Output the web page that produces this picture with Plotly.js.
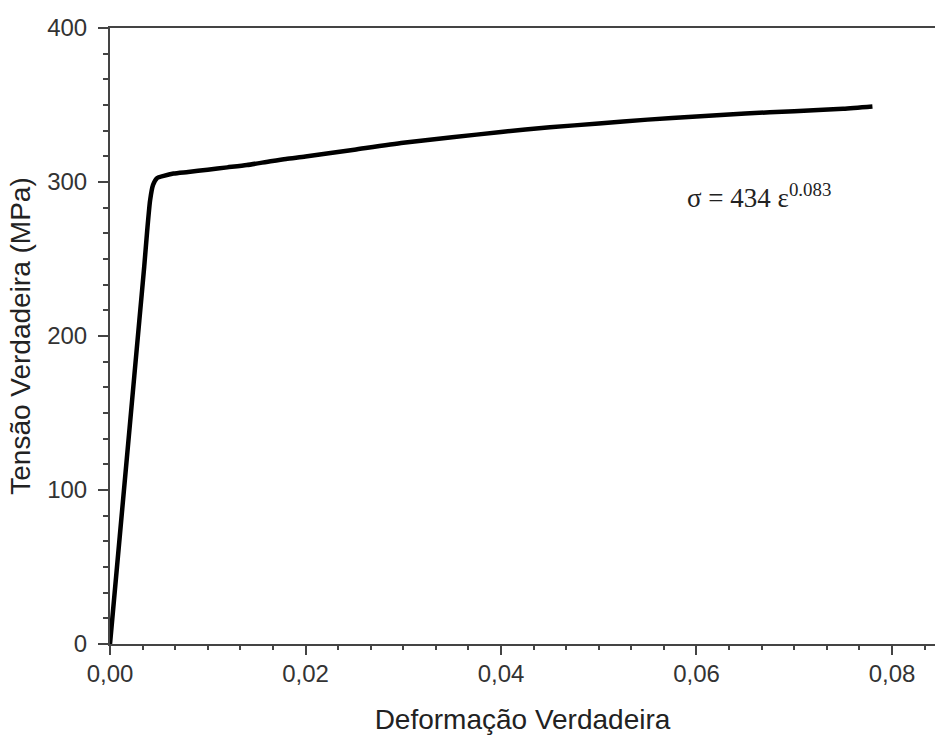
<!DOCTYPE html>
<html>
<head>
<meta charset="utf-8">
<script src="https://cdn.plot.ly/plotly-3.0.1.min.js"></script>
<style>html,body{margin:0;padding:0;background:#fff;}</style>
</head>
<body>
<div id="chart" style="width:935px;height:735px;"></div>
<script>
const strain = [0, 0.001, 0.002, 0.003, 0.0035, 0.0038, 0.0041, 0.0044, 0.0048, 0.0055, 0.0065, 0.008, 0.010, 0.012, 0.014, 0.016, 0.018, 0.020, 0.025, 0.030, 0.035, 0.040, 0.045, 0.050, 0.055, 0.060, 0.065, 0.070, 0.075, 0.078];
const stress = [0, 70, 140, 210, 245, 268, 288, 298, 302.5, 304, 305.5, 306.5, 308, 309.5, 311, 313, 315, 316.5, 321, 325.5, 329, 332.5, 335.5, 338, 340.5, 342.5, 344.5, 346, 347.5, 349];
const xTickVals = [0, 0.02, 0.04, 0.06, 0.08];
const yTickVals = [0, 100, 200, 300, 400];
const xTitle = 'Deformação Verdadeira';
const yTitle = 'Tensão Verdadeira (MPa)';
const eqText = 'σ = 434 ε<sup>0.083</sup>';
const eqPos = {x: 0.0588, y: 291};

const axisColor = '#444';
const trace = {
  x: strain, y: stress, mode: 'lines', type: 'scatter',
  line: {color: '#000', width: 4.5, shape: 'spline', smoothing: 0.6},
  hoverinfo: 'skip'
};
const layout = {
  width: 935, height: 735,
  margin: {l: 110, r: 0, t: 28, b: 91},
  paper_bgcolor: '#fff', plot_bgcolor: '#fff',
  showlegend: false,
  separators: ',.',
  font: {family: 'Liberation Sans, Arial, sans-serif', color: '#333'},
  xaxis: {
    range: [0, 0.0844], tickvals: xTickVals, tickformat: '.2f',
    showgrid: false, zeroline: false,
    showline: true, linecolor: axisColor, linewidth: 2, mirror: true,
    ticks: 'outside', ticklen: 9, tickwidth: 2, tickcolor: axisColor,
    tickfont: {size: 24, color: '#333'}, ticklabelstandoff: -2,
    minor: {dtick: 0.02/6, ticks: 'outside', ticklen: 4, tickwidth: 2, tickcolor: axisColor, showgrid: false},
    title: {text: xTitle, font: {size: 28, color: '#222'}, standoff: 24}
  },
  yaxis: {
    range: [0, 400], tickvals: yTickVals,
    showgrid: false, zeroline: false,
    showline: true, linecolor: axisColor, linewidth: 2,
    ticks: 'outside', ticklen: 10, tickwidth: 2, tickcolor: axisColor,
    tickfont: {size: 24, color: '#333'}, ticklabelstandoff: 6,
    minor: {dtick: 100/6, ticks: 'outside', ticklen: 5, tickwidth: 2, tickcolor: axisColor, showgrid: false},
    title: {text: yTitle, font: {size: 28, color: '#222'}, standoff: 8}
  },
  annotations: [{
    x: eqPos.x, y: eqPos.y, xref: 'x', yref: 'y', text: eqText,
    showarrow: false, xanchor: 'left', yanchor: 'middle',
    font: {family: 'Liberation Serif, Times New Roman, serif', size: 27, color: '#222'}
  }]
};
Plotly.newPlot('chart', [trace], layout, {displayModeBar: false, staticPlot: true});
</script>
</body>
</html>
